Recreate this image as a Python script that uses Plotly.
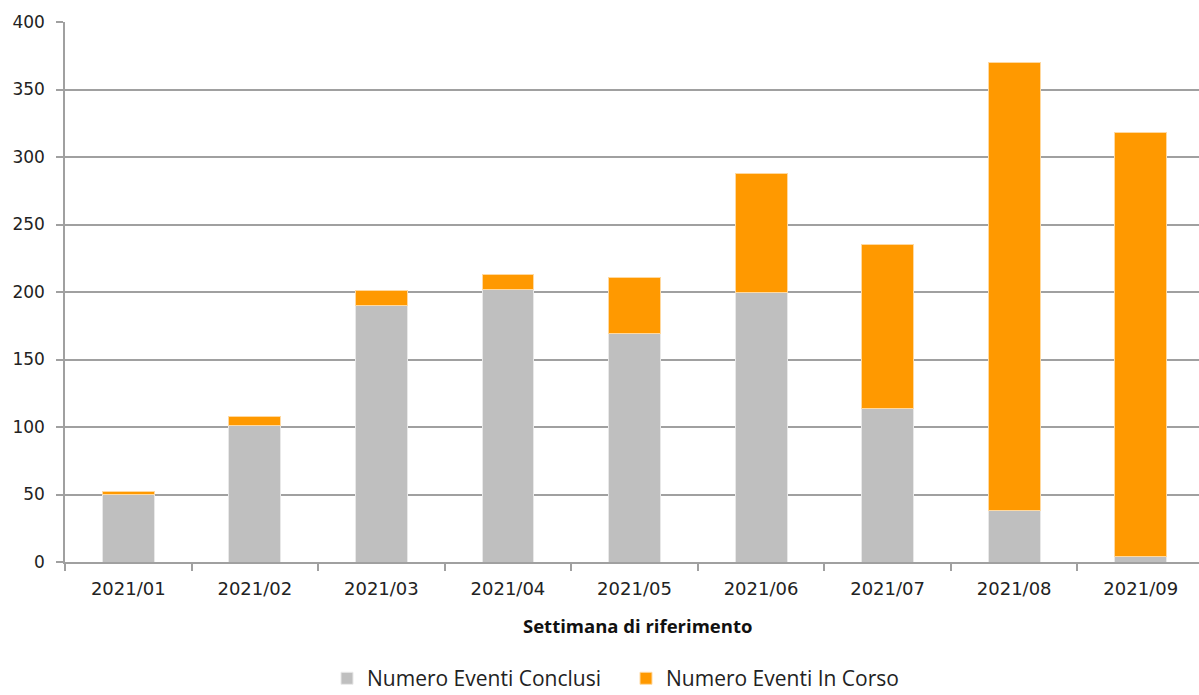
import plotly.graph_objects as go

weeks = ["2021/01", "2021/02", "2021/03", "2021/04", "2021/05", "2021/06", "2021/07", "2021/08", "2021/09"]
conclusi = [50, 101, 190, 202, 169, 200, 114, 38, 4]
in_corso = [2, 7, 11, 11, 42, 88, 121, 332, 314]
y_ticks = [0, 50, 100, 150, 200, 250, 300, 350, 400]

W = 1204
L = 65

fig = go.Figure()
fig.add_trace(go.Bar(x=weeks, y=conclusi, name="Numero Eventi Conclusi",
                     marker=dict(color="#BFBFBF", line=dict(color="#E8E8E8", width=1))))
fig.add_trace(go.Bar(x=weeks, y=in_corso, name="Numero Eventi In Corso",
                     marker=dict(color="#FF9900", line=dict(color="#FFD9A0", width=1))))

fig.update_layout(
    barmode="stack",
    bargap=0.59,
    width=W, height=695,
    margin=dict(l=L, r=0, t=22, b=133, autoexpand=False),
    plot_bgcolor="white", paper_bgcolor="white",
    font=dict(family="DejaVu Sans", size=17, color="#222222"),
    legend=dict(orientation="h", x=(327 - L) / (W - L), xanchor="left", y=-0.216, yanchor="middle",
                font=dict(family="Open Sans", size=21, color="#222222"),
                traceorder="normal", entrywidth=254, entrywidthmode="pixels"),
    showlegend=True,
)
fig.update_yaxes(range=[0, 400], tickvals=y_ticks, showgrid=True, gridcolor="#A0A0A0", gridwidth=1.5,
                 showline=True, linecolor="#A0A0A0", linewidth=1.5,
                 ticks="outside", ticklen=7, tickcolor="#A0A0A0", tickwidth=1.5,
                 ticklabelstandoff=8, zeroline=False, automargin=False,
                 tickfont=dict(family="DejaVu Sans", size=17))
fig.update_xaxes(showline=True, linecolor="#A0A0A0", linewidth=1.5,
                 ticks="outside", ticklen=7, tickcolor="#A0A0A0", tickwidth=1.5,
                 tickson="boundaries", ticklabelstandoff=10, automargin=False,
                 tickfont=dict(family="DejaVu Sans", size=18))
fig.add_annotation(text="<b>Settimana di riferimento</b>", xref="paper", yref="paper",
                   x=(637 - L) / (W - L), y=-0.1185, xanchor="center", yanchor="middle", showarrow=False,
                   font=dict(family="Open Sans", size=18.5, color="#111111"))

fig.write_html("out.html", config={"displayModeBar": False},
               post_script="document.body.style.margin='0px';document.body.style.overflow='hidden';")
